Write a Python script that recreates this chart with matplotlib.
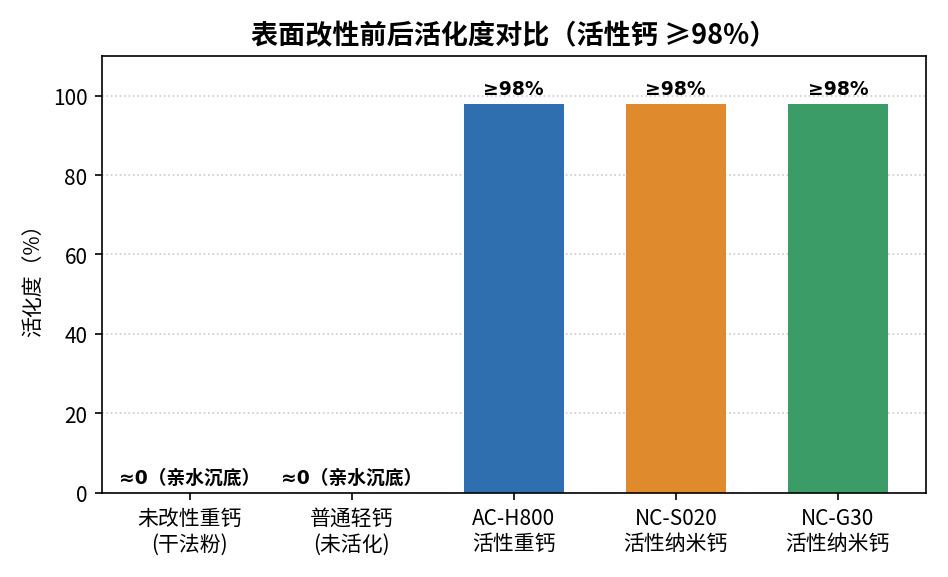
import matplotlib
matplotlib.use('agg')
import matplotlib.pyplot as plt

plt.rcParams['font.family'] = ['Noto Sans CJK SC', 'DejaVu Sans']

categories = ['未改性重钙\n(干法粉)', '普通轻钙\n(未活化)', 'AC-H800\n活性重钙', 'NC-S020\n活性纳米钙', 'NC-G30\n活性纳米钙']
values = [0, 0, 98, 98, 98]
bar_labels = ['≈0（亲水沉底）', '≈0（亲水沉底）', '≥98%', '≥98%', '≥98%']
colors = ['#2f6faf', '#2f6faf', '#2f6faf', '#e08a2e', '#3c9c68']

fig, ax = plt.subplots(figsize=(6.32, 3.853), dpi=150)
x = range(len(categories))
ax.bar(x, values, width=0.62, color=colors, zorder=2)
for i, (v, lab) in enumerate(zip(values, bar_labels)):
    fam = ['DejaVu Sans', 'Noto Sans CJK SC']
    ax.text(i, v + 1.5, lab, ha='center', va='bottom', fontsize=9, fontweight='bold', family=fam)

ax.set_xticks(list(x))
ax.set_xticklabels(categories, fontsize=10)
ax.set_ylim(0, 110)
ax.set_ylabel('活化度（%）', fontsize=10)
ax.set_title('表面改性前后活化度对比（活性钙 ≥98%）', fontsize=13, fontweight='bold')
ax.yaxis.grid(True, linestyle=':', color='#cccccc', zorder=0)
ax.tick_params(labelsize=10)
plt.tight_layout()
plt.savefig('out.png')
